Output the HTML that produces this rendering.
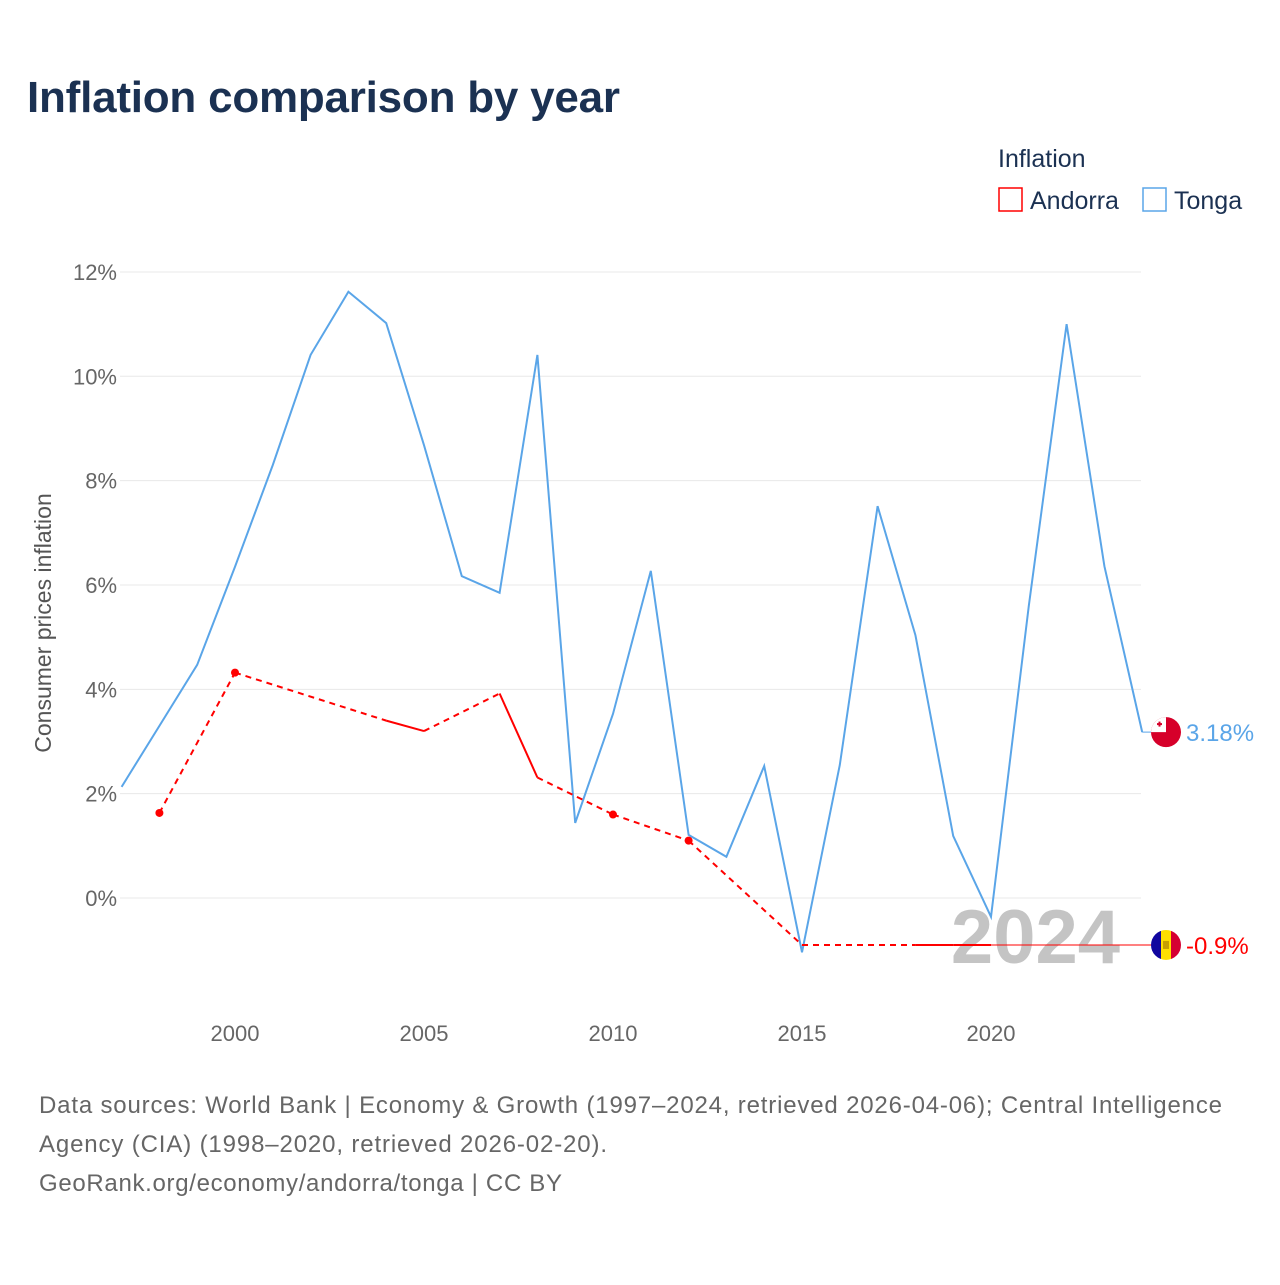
<!DOCTYPE html>
<html><head><meta charset="utf-8"><style>
body{margin:0;background:#fff;font-family:"Liberation Sans",sans-serif;}
</style></head><body>
<svg id="c" width="1280" height="1280" xmlns="http://www.w3.org/2000/svg">
<text x="27" y="112" font-size="44" font-weight="bold" fill="#1b3152" textLength="593">Inflation comparison by year</text>
<text x="998" y="167" font-size="25" fill="#1b3152">Inflation</text>
<g><rect x="999" y="188" width="23" height="23" fill="none" stroke="#f00" stroke-width="1.5"/><text x="1030" y="209" font-size="25" fill="#1b3152">Andorra</text></g>
<g><rect x="1143" y="188" width="23" height="23" fill="none" stroke="#5aa5e8" stroke-width="1.5"/><text x="1174" y="209" font-size="25" fill="#1b3152">Tonga</text></g>
<text transform="translate(51,623) rotate(-90)" text-anchor="middle" font-size="23" fill="#555">Consumer prices inflation</text>
<g id="grid"></g><g id="yt"></g><g id="xt"></g>
<text x="1120" y="963" text-anchor="end" font-size="76" font-weight="bold" fill="#c4c4c4">2024</text>
<g id="marks"></g>
<text x="39" y="1113" font-size="24" fill="#666" textLength="1183">Data sources: World Bank | Economy &amp; Growth (1997–2024, retrieved 2026-04-06); Central Intelligence</text>
<text x="39" y="1152" font-size="24" fill="#666" textLength="568">Agency (CIA) (1998–2020, retrieved 2026-02-20).</text>
<text x="39" y="1191" font-size="24" fill="#666" textLength="523">GeoRank.org/economy/andorra/tonga | CC BY</text>
</svg>
<script>
const tongaYears=[1997,1998,1999,2000,2001,2002,2003,2004,2005,2006,2007,2008,2009,2010,2011,2012,2013,2014,2015,2016,2017,2018,2019,2020,2021,2022,2023,2024];
const tongaValues=[2.13,3.3,4.47,6.35,8.3,10.41,11.62,11.02,8.68,6.17,5.85,10.41,1.44,3.53,6.27,1.21,0.79,2.53,-1.04,2.55,7.51,5.04,1.19,-0.36,5.6,11.0,6.36,3.18];
const andorraYears=[1998,2000,2004,2005,2007,2008,2010,2012,2015,2018,2019,2020];
const andorraValues=[1.63,4.32,3.4,3.2,3.92,2.31,1.6,1.1,-0.9,-0.9,-0.9,-0.9];
const yTicks=[0,2,4,6,8,10,12];
const xTicks=[2000,2005,2010,2015,2020];
const NS="http://www.w3.org/2000/svg";
const X=y=>235+(y-2000)*37.8, Y=v=>898-v*52.17;
function mk(t,a,p){const e=document.createElementNS(NS,t);for(const k in a)e.setAttribute(k,a[k]);document.getElementById(p).appendChild(e);return e;}
yTicks.forEach(t=>{
 const l=mk('line',{x1:120,x2:1141,y1:Y(t),y2:Y(t),stroke:'#e8e8e8'},'grid');
 
 
 const tx=mk('text',{x:117,y:Y(t)+8,'text-anchor':'end','font-size':22,fill:'#666'},'yt');tx.textContent=t+'%';
 
 
});
xTicks.forEach(t=>{
 const tx=mk('text',{x:X(t),y:1041,'text-anchor':'middle','font-size':22,fill:'#666'},'xt');tx.textContent=t;
 
 
});
const tp=mk('polyline',{points:tongaYears.map((y,i)=>X(y)+','+Y(tongaValues[i])).join(' '),fill:'none',stroke:'#5aa5e8','stroke-width':2},'marks');


const la=tongaYears.length-1;
const tc=mk('line',{x1:X(tongaYears[la]),y1:Y(tongaValues[la]),x2:1152,y2:Y(tongaValues[la]),stroke:'#5aa5e8','stroke-width':1},'marks');


for(let i=0;i<andorraYears.length-1;i++){
 const gap=andorraYears[i+1]-andorraYears[i]>1;
 const a={x1:X(andorraYears[i]),y1:Y(andorraValues[i]),x2:X(andorraYears[i+1]),y2:Y(andorraValues[i+1]),stroke:'#f00','stroke-width':2};
 if(gap)a['stroke-dasharray']='6,5';
 const l=mk('line',a,'marks');
 
 
}
andorraYears.forEach((y,i)=>{
 const prev=i>0&&y-andorraYears[i-1]==1, next=i<andorraYears.length-1&&andorraYears[i+1]-y==1;
 if(!prev&&!next&&i<andorraYears.length-1&&i!=8){const c=mk('circle',{cx:X(y),cy:Y(andorraValues[i]),r:4,fill:'#f00'},'marks');
 
 }
});
const al=andorraYears.length-1;
const ac=mk('line',{x1:X(andorraYears[al]),y1:Y(andorraValues[al]),x2:1152,y2:Y(andorraValues[al]),stroke:'#f00','stroke-width':1},'marks');


const ty=Y(tongaValues[la]), ay=Y(andorraValues[al]);
const tf=mk('g',{},'marks');


tf.innerHTML=`<circle cx="1166" cy="${ty}" r="15" fill="#d6002a"/><path d="M1166 ${ty} L1151 ${ty} A15 15 0 0 1 1166 ${ty-15} Z" fill="#fff"/><rect x="1157" y="${ty-9}" width="5" height="2" fill="#d6002a"/><rect x="1158.5" y="${ty-10.5}" width="2" height="5" fill="#d6002a"/>`;
const af=mk('g',{},'marks');


af.innerHTML=`<clipPath id="ac"><circle cx="1166" cy="${ay}" r="15"/></clipPath><g clip-path="url(#ac)"><rect x="1151" y="${ay-15}" width="10" height="30" fill="#10069f"/><rect x="1161" y="${ay-15}" width="10" height="30" fill="#fedf00"/><rect x="1171" y="${ay-15}" width="10" height="30" fill="#d50032"/><rect x="1163" y="${ay-4}" width="6" height="8" fill="#c7a000"/></g>`;
const tl=mk('text',{x:1186,y:ty+9,'font-size':24,fill:'#5aa5e8'},'marks');tl.textContent=tongaValues[la]+'%';


const al2=mk('text',{x:1186,y:ay+9,'font-size':24,fill:'#f00'},'marks');al2.textContent=andorraValues[al]+'%';


</script>
</body></html>
